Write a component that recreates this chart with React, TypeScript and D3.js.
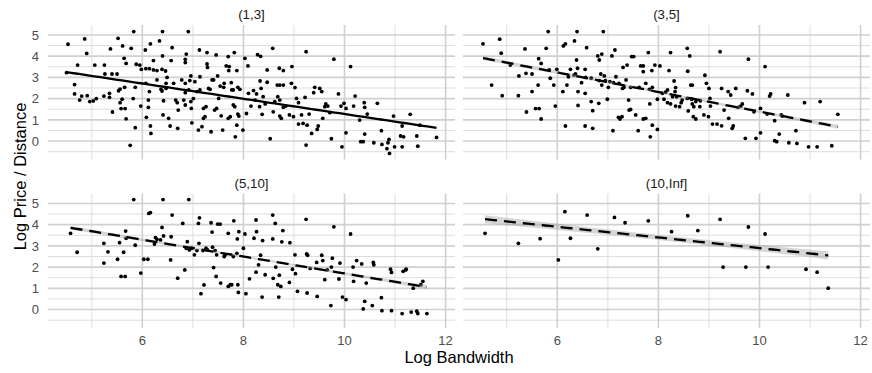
import React from "react";
import * as d3 from "d3";

const panelLabels = ["(1,3]", "(3,5]", "(5,10]", "(10,Inf]"];

const pts1: [number, number][] = [
  [4.53,4.56],[4.86,4.81],[5.83,5.16],[6.40,5.16],[6.91,5.16],[5.52,4.84],[6.34,4.72],[6.16,4.58],[5.61,4.48],[5.78,4.37],[6.06,4.29],[4.90,4.13],[5.37,4.34],[6.59,4.40],[6.87,4.10],[7.13,4.29],[7.28,4.17],[7.46,4.06],[7.70,3.98],[7.82,4.17],[8.03,3.90],
  [4.72,3.58],[5.06,3.58],[5.25,3.58],[5.64,3.90],[5.68,3.66],[5.88,3.62],[5.95,3.58],[5.98,3.38],[6.22,3.79],[6.40,4.01],[6.57,3.79],[6.85,3.85],[6.85,3.70],[7.28,3.63],[7.29,3.47],[7.66,3.54],[7.72,3.51],[7.87,3.32],[7.71,3.32],[8.09,3.54],
  [4.50,3.22],[5.26,3.16],[5.40,3.16],[5.50,3.16],[6.07,3.41],[6.14,3.41],[6.22,3.35],[6.29,3.32],[6.39,3.38],[6.46,3.30],[7.14,3.03],[6.96,3.07],[7.49,3.07],[7.41,2.88],[7.54,2.59],[7.62,2.72],[7.76,2.75],[7.89,2.53],[7.80,2.41],[7.93,2.44],[8.10,2.25],
  [4.66,2.66],[4.66,2.22],[4.76,1.93],[4.80,2.12],[4.91,2.14],[4.96,1.86],[5.03,1.89],[5.09,2.00],[5.24,2.12],[5.35,2.25],[5.35,2.06],[5.41,1.37],[5.53,2.37],[5.56,2.45],[5.60,1.97],[5.56,1.81],[5.58,1.53],[5.66,1.53],[5.68,1.05],[5.65,2.53],[5.82,2.00],[5.86,2.53],[5.86,0.63],[5.76,-0.20],[5.97,1.65],[6.07,2.72],[6.14,2.33],[6.12,1.93],[6.12,1.59],[6.08,1.12],[6.16,0.71],[6.17,0.36],[6.29,2.88],[6.37,2.44],[6.39,2.36],[6.42,1.90],[6.47,2.72],[6.49,3.00],[6.47,2.48],[6.52,1.07],[6.55,0.71],[6.41,1.23],[6.62,2.72],[6.66,1.93],[6.69,1.81],[6.71,1.46],[6.70,0.60],[6.78,2.88],[6.82,1.93],[6.85,2.72],[6.85,2.28],[6.85,1.70],[6.92,2.41],[6.94,2.85],[6.96,1.86],[6.97,1.54],[6.98,0.86],[7.01,2.00],[7.04,2.80],[7.08,2.33],[7.14,2.41],[7.11,0.52],[7.18,0.68],[7.21,1.07],[7.24,1.15],[7.21,1.54],[7.26,1.62],[7.31,2.48],[7.34,2.44],[7.36,0.44],[7.38,2.88],[7.43,1.46],[7.47,1.54],[7.51,2.01],[7.56,1.19],[7.59,0.52],[7.61,2.53],[7.70,1.07],[7.74,1.15],[7.77,2.41],[7.80,1.70],[7.83,1.62],[7.84,0.20],[7.89,1.27],[7.91,1.18],[7.87,0.75],[7.99,0.52],[8.06,1.30],
  [8.58,4.37],[9.24,4.21],[8.34,3.99],[8.28,4.07],[8.47,3.35],[8.71,3.43],[8.79,3.32],[8.96,3.51],[9.79,3.86],[10.12,3.51],[8.33,2.83],[8.47,2.77],[8.67,2.64],[8.72,2.64],[8.79,2.64],[8.95,2.72],[9.02,2.52],[8.20,2.38],[8.26,2.22],[8.35,2.48],[8.39,2.09],[8.43,1.75],[8.37,1.26],[8.59,1.38],[8.62,1.86],[8.68,2.09],[8.72,1.93],[8.75,1.07],[8.72,1.18],[8.79,1.59],[8.84,1.65],[8.91,1.23],[8.99,1.15],[9.05,2.01],[9.09,1.81],[9.09,0.80],[9.15,1.23],[9.18,0.83],[9.22,2.06],[9.26,0.75],[9.30,1.27],[9.35,0.36],[9.39,2.28],[9.41,2.53],[9.46,0.55],[9.48,0.71],[9.51,2.48],[9.55,2.33],[9.57,1.07],[9.61,1.62],[9.63,1.75],[9.67,1.65],[9.71,1.34],[9.74,0.11],[9.24,-0.19],[8.53,0.11],[9.88,2.22],[9.93,1.65],[9.95,-0.27],[9.99,1.78],[10.03,1.54],[10.03,0.39],[10.21,2.12],[10.18,1.65],[10.30,0.99],[10.32,-0.03],[10.37,-0.03],[10.40,0.33],[10.39,1.81],[10.40,1.59],[10.45,1.27],[10.58,-0.08],[10.65,1.78],[10.73,0.49],[10.74,-0.16],[10.86,-0.08],[10.88,0.08],[10.84,-0.36],[10.89,-0.58],[10.97,1.18],[10.99,-0.27],[11.11,0.24],[11.14,-0.27],[11.14,0.71],[11.17,0.20],[11.30,1.26],[11.43,0.24],[11.45,-0.24],[11.49,0.75],[11.82,0.17],[8.23,1.93],[8.15,1.65],[8.32,1.62]
];

const pts2: [number, number][] = [
  [4.53,4.58],[4.86,4.80],[4.89,4.14],[4.70,2.64],[4.91,2.14],[5.07,3.58],[5.23,2.14],[5.24,3.07],[5.36,4.34],[5.39,1.37],[5.38,3.19],[5.50,3.16],[5.50,2.33],[5.57,1.53],[5.64,1.53],[5.68,1.04],[5.62,2.64],[5.63,3.88],[5.68,3.66],[5.78,4.37],[5.82,5.16],[5.84,3.35],[5.86,2.96],[5.93,2.64],[5.96,1.65],[5.99,3.38],[6.11,2.33],[6.12,4.48],[6.16,4.58],[6.16,0.71],[6.19,2.64],[6.22,3.03],[6.26,3.38],[6.34,4.72],[6.33,3.11],[6.36,3.16],[6.38,3.82],[6.39,5.16],[6.40,3.43],[6.41,2.33],[6.41,1.68],[6.48,2.75],[6.55,3.38],[6.55,0.71],[6.56,3.00],[6.58,4.40],[6.55,2.25],[6.67,2.96],[6.67,1.86],[6.70,1.43],[6.70,0.60],[6.80,4.01],[6.83,3.82],[6.88,4.10],[6.82,1.78],[6.83,2.85],[6.86,3.16],[6.88,2.64],[6.91,5.16],[6.93,3.07],[6.95,2.85],[6.99,1.97],[7.01,2.53],[7.04,2.80],[7.08,4.01],[7.10,0.49],[7.11,2.75],[7.14,4.29],[7.16,3.03],[7.21,1.12],[7.22,2.72],[7.24,1.04],[7.28,1.15],[7.29,2.48],[7.30,3.47],[7.32,2.53],[7.36,2.88],[7.38,3.58],[7.41,1.93],[7.42,1.46],[7.45,1.49],[7.47,3.98],[7.45,2.53],[7.51,3.98],[7.55,1.23],[7.60,0.49],[7.62,2.53],[7.65,3.54],[7.70,3.54],[7.70,3.27],[7.70,1.04],[7.75,1.07],[7.75,2.72],[7.80,4.17],[7.82,2.44],[7.83,1.75],[7.87,3.32],[7.88,2.53],[7.88,0.75],[7.84,0.20],[7.93,3.58],[7.98,1.97],[7.98,0.55],
  [8.24,4.17],[8.57,4.37],[8.62,4.01],[9.22,4.21],[9.78,3.86],[10.11,3.51],[8.03,3.54],[8.21,3.32],[8.58,3.29],[8.92,3.10],[8.31,2.83],[8.34,2.52],[8.33,2.33],[8.08,2.25],[8.14,2.30],[8.18,2.41],[8.28,2.09],[8.36,2.09],[8.11,1.97],[8.18,1.81],[8.24,1.75],[8.34,1.65],[8.42,1.62],[8.45,1.81],[8.47,1.93],[8.57,2.01],[8.59,1.42],[8.64,2.64],[8.67,2.64],[8.66,1.97],[8.67,1.75],[8.70,1.62],[8.74,1.86],[8.69,1.15],[8.74,1.04],[8.82,1.62],[8.83,1.90],[8.90,1.23],[8.95,2.72],[8.99,1.15],[9.00,2.48],[9.02,2.01],[9.03,1.65],[9.07,0.80],[9.16,0.80],[9.25,2.48],[9.25,0.72],[9.30,1.46],[9.38,2.33],[9.39,1.07],[9.43,2.17],[9.46,0.60],[9.48,0.71],[9.53,2.48],[9.58,1.59],[9.63,1.65],[9.66,1.75],[9.72,0.13],[9.76,2.37],[9.86,2.22],[9.89,1.38],[9.93,0.13],[10.02,1.54],[10.02,0.39],[10.15,1.27],[10.20,2.12],[10.22,2.22],[10.30,0.96],[10.30,0.02],[10.34,-0.03],[10.39,0.33],[10.43,1.23],[10.45,1.18],[10.56,2.17],[10.58,-0.08],[10.72,0.49],[10.74,-0.11],[10.89,1.81],[10.97,-0.27],[11.14,-0.27],[11.20,1.86],[11.43,-0.22],[11.55,1.26]
];

const pts3: [number, number][] = [
  [4.58,3.59],[4.71,2.70],[5.24,3.12],[5.24,2.19],[5.32,2.72],[5.51,2.37],[5.55,3.15],[5.58,1.56],[5.66,1.56],[5.63,2.70],[5.67,3.70],[5.68,3.36],[5.83,5.18],[5.86,3.03],[5.97,1.72],[6.03,2.37],[6.11,2.37],[6.13,4.53],[6.16,4.57],[6.24,3.09],[6.26,3.39],[6.29,3.31],[6.36,3.28],[6.39,3.87],[6.41,5.18],[6.42,3.47],[6.56,2.34],[6.57,3.43],[6.59,4.45],[6.70,1.48],[6.80,4.06],[6.84,1.87],[6.87,2.89],[6.89,3.20],[6.92,5.18],[6.93,2.81],[6.98,2.89],[7.03,2.58],[7.08,2.78],[7.11,4.06],[7.12,3.12],[7.13,4.32],[7.16,0.75],[7.20,2.78],[7.22,1.16],[7.26,2.89],[7.29,2.81],[7.36,4.09],[7.38,3.65],[7.39,2.94],[7.41,1.98],[7.44,2.78],[7.46,1.56],[7.47,2.58],[7.49,4.03],[7.54,4.03],[7.55,1.25],[7.62,2.50],[7.64,2.58],[7.70,3.59],[7.70,1.09],[7.74,1.17],[7.77,1.17],[7.80,2.50],[7.81,4.18],[7.87,2.65],[7.88,3.33],[7.89,1.17],[7.91,3.67],[7.90,0.81],[8.00,2.89],[8.03,3.56],[8.05,0.75],[8.12,1.45],
  [8.25,4.22],[8.58,4.45],[8.63,4.06],[8.78,3.72],[9.24,4.25],[9.79,3.90],[10.12,3.56],[8.26,3.67],[8.21,3.36],[8.38,3.25],[8.58,3.33],[8.76,3.19],[8.92,3.15],[8.34,2.56],[8.30,2.11],[8.25,1.76],[8.43,1.64],[8.37,0.59],[8.59,1.47],[8.64,2.00],[8.68,1.17],[8.71,1.62],[8.74,1.09],[8.70,0.59],[8.91,1.28],[8.97,1.90],[9.02,2.58],[9.03,1.69],[9.07,0.86],[9.25,2.62],[9.27,2.56],[9.26,0.78],[9.32,1.94],[9.46,0.62],[9.45,2.22],[9.55,2.56],[9.57,2.31],[9.61,1.41],[9.66,1.87],[9.73,0.19],[9.76,2.42],[9.74,2.00],[9.91,2.19],[9.89,1.44],[9.96,0.59],[10.03,0.47],[10.17,2.00],[10.18,1.33],[10.24,2.31],[10.34,2.15],[10.37,0.03],[10.40,0.39],[10.43,1.25],[10.55,0.19],[10.57,2.22],[10.58,2.11],[10.73,0.56],[10.74,-0.05],[10.91,1.90],[10.93,1.75],[10.93,-0.05],[11.14,-0.19],[11.16,1.80],[11.21,1.87],[11.22,1.90],[11.32,-0.12],[11.36,1.01],[11.43,-0.08],[11.45,-0.19],[11.51,1.17],[11.55,1.33],[11.63,-0.19]
];

const pts4: [number, number][] = [
  [4.57,3.59],[5.23,3.12],[5.66,3.34],[6.02,2.34],[6.15,4.61],[6.26,3.36],[6.59,4.45],[6.80,2.86],[7.13,4.34],[7.34,4.09],[7.80,4.18],
  [8.26,3.67],[8.58,4.42],[8.78,3.72],[9.22,4.25],[9.28,2.00],[9.73,2.00],[9.78,3.89],[10.11,3.56],[10.17,2.00],[10.92,1.90],[11.14,1.76],[11.36,1.01]
];

const panelPoints = [pts1, pts2, pts3, pts4];
const fitIntercept = [4.865, 5.999, 5.672, 5.405];
const fitSlope = [-0.359, -0.461, -0.397, -0.251];
const bandCenter = [0, 0.05, 0.05, 0.12];
const bandEnd = [0, 0.09, 0.09, 0.19];
const lineDash = ["none", "12 7", "12 7", "12 7"];

const xMajor = [6, 8, 10, 12];
const xMinor = [5, 7, 9, 11];
const yMajor = [0, 1, 2, 3, 4, 5];
const yMinor = [-0.5, 0.5, 1.5, 2.5, 3.5, 4.5];

const W = 872, H = 373;
const colX = [48, 463];
const rowY = [25, 193.5];
const PW = 407, PH = 134.5;
const FONT = "'Liberation Sans', Arial, sans-serif";

export default function App() {
  const all = panelPoints.flat();
  const [x0, x1] = d3.extent(all, (d) => d[0]) as [number, number];
  const [y0, y1] = d3.extent(all, (d) => d[1]) as [number, number];
  const xr = x1 - x0, yr = y1 - y0;
  const xs = d3.scaleLinear().domain([x0 - 0.05 * xr, x1 + 0.05 * xr]).range([0, PW]);
  const ys = d3.scaleLinear().domain([y0 - 0.05 * yr, y1 + 0.05 * yr]).range([PH, 0]);

  return (
    <svg width={W} height={H} style={{ position: "absolute", left: 0, top: 0, background: "#fff" }} fontFamily={FONT}>
      {panelLabels.map((lab, i) => {
        const col = i % 2, row = Math.floor(i / 2);
        const tx = colX[col], ty = rowY[row];
        const pts = panelPoints[i];
        const [px0, px1] = d3.extent(pts, (d) => d[0]) as [number, number];
        const xm = (px0 + px1) / 2, half = (px1 - px0) / 2;
        const xsSeq = d3.range(0, 81).map((k) => px0 + (k / 80) * (px1 - px0));
        const fit = (x: number) => fitIntercept[i] + fitSlope[i] * x;
        const hw = (x: number) => {
          const t = (x - xm) / half;
          return Math.sqrt(bandCenter[i] ** 2 + (bandEnd[i] ** 2 - bandCenter[i] ** 2) * t * t);
        };
        const area = d3.area<number>().x((x) => xs(x)).y0((x) => ys(fit(x) - hw(x))).y1((x) => ys(fit(x) + hw(x)));
        const line = d3.line<number>().x((x) => xs(x)).y((x) => ys(fit(x)));
        return (
          <g key={lab} transform={`translate(${tx},${ty})`}>
            {yMinor.map((v) => (
              <line key={"ym" + v} x1={0} x2={PW} y1={ys(v)} y2={ys(v)} stroke="#dedede" strokeWidth={1} />
            ))}
            {xMinor.map((v) => (
              <line key={"xm" + v} y1={0} y2={PH} x1={xs(v)} x2={xs(v)} stroke="#dedede" strokeWidth={1} />
            ))}
            {yMajor.map((v) => (
              <line key={"yM" + v} x1={0} x2={PW} y1={ys(v)} y2={ys(v)} stroke="#d0d0d0" strokeWidth={1.6} />
            ))}
            {xMajor.map((v) => (
              <line key={"xM" + v} y1={0} y2={PH} x1={xs(v)} x2={xs(v)} stroke="#d0d0d0" strokeWidth={1.6} />
            ))}
            {pts.map((d, k) => (
              <circle key={k} cx={xs(d[0])} cy={ys(d[1])} r={1.9} fill="#000" />
            ))}
            {bandEnd[i] > 0 && <path d={area(xsSeq) || ""} fill="#999999" fillOpacity={0.4} />}
            <path d={line(xsSeq) || ""} fill="none" stroke="#000" strokeWidth={2.3}
              strokeDasharray={lineDash[i] === "none" ? undefined : lineDash[i]} />
            <text x={PW / 2} y={-6} textAnchor="middle" fontSize={13.3} fill="#1a1a1a">{lab}</text>
            {col === 0 && yMajor.map((v) => (
              <text key={"yl" + v} x={-9} y={ys(v)} dy="0.36em" textAnchor="end" fontSize={13} fill="#4d4d4d">{v}</text>
            ))}
            {row === 1 && xMajor.map((v) => (
              <text key={"xl" + v} x={xs(v)} y={PH + 17} textAnchor="middle" fontSize={13} fill="#4d4d4d">{v}</text>
            ))}
          </g>
        );
      })}
      <text x={(colX[0] + colX[1] + PW) / 2} y={363} textAnchor="middle" fontSize={16.5} fill="#000">Log Bandwidth</text>
      <text transform={`translate(26,${(rowY[0] + rowY[1] + PH) / 2}) rotate(-90)`} textAnchor="middle" fontSize={16.5} fill="#000">Log Price / Distance</text>
    </svg>
  );
}
